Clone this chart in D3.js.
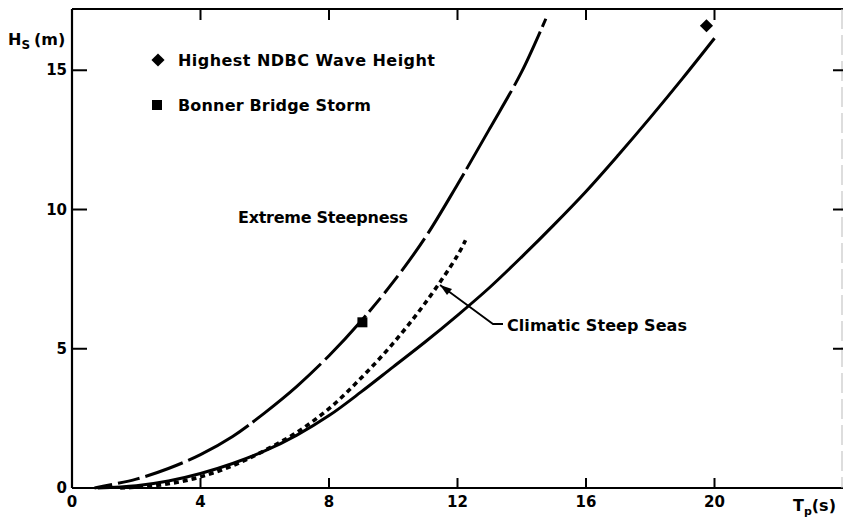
<!DOCTYPE html>
<html lang="en">
<head>
<meta charset="UTF-8"/>
<title>Hs vs Tp steepness</title>
<script src="https://d3js.org/d3.v7.min.js"></script>
<style>
  body { margin: 0; background: #fff; }
  text { font-family: "DejaVu Sans", sans-serif; font-weight: bold; fill: #000; }
</style>
</head>
<body>
<script>
// values
var xTicks = [4, 8, 12, 16, 20];
var yTicks = [5, 10, 15];

var extremeTp = [0.7, 2, 3, 4, 5, 6, 7, 8, 9, 10, 11, 12, 13, 14, 14.75];
var extremeHs = [0, 0.32, 0.7, 1.2, 1.85, 2.7, 3.65, 4.75, 6.0, 7.4, 9.0, 10.9, 12.9, 14.95, 16.85];

var climaticTp = [0.8, 2, 3, 4, 5, 6, 7, 8, 9, 10, 11, 12, 13, 14, 15, 16, 17, 18, 19, 20];
var climaticHs = [0, 0.08, 0.25, 0.52, 0.88, 1.33, 1.9, 2.6, 3.45, 4.35, 5.25, 6.2, 7.2, 8.3, 9.45, 10.65, 11.95, 13.3, 14.7, 16.15];

var steepTp = [1.5, 2, 3, 4, 5, 6, 7, 8, 9, 10, 11, 12, 12.25];
var steepHs = [0, 0.03, 0.15, 0.4, 0.8, 1.35, 2.0, 2.85, 3.95, 5.2, 6.65, 8.35, 8.9];

var ndbcPoint = [19.75, 16.6];
var bonnerPoint = [9.04, 5.95];

var w = 843, h = 520;
var svg = d3.select("body").append("svg")
    .attr("width", w)
    .attr("height", h);

var x = d3.scaleLinear().domain([0, 24]).range([72, 843]);
var y = d3.scaleLinear().domain([0, 17.2]).range([488, 9]);

// frame
svg.append("line").attr("x1", 72).attr("x2", 843).attr("y1", 488).attr("y2", 488)
    .attr("stroke", "#000").attr("stroke-width", 2.2);
svg.append("line").attr("x1", 72).attr("x2", 72).attr("y1", 9).attr("y2", 488)
    .attr("stroke", "#000").attr("stroke-width", 2.2);
svg.append("line").attr("x1", 72).attr("x2", 843).attr("y1", 9).attr("y2", 9)
    .attr("stroke", "#000").attr("stroke-width", 2);
svg.append("line").attr("x1", 842).attr("x2", 842).attr("y1", 9).attr("y2", 488)
    .attr("stroke", "#bbb").attr("stroke-width", 1).attr("stroke-dasharray", "20,6");

// ticks
svg.selectAll(".xtb").data(xTicks).enter().append("line")
    .attr("x1", d => x(d)).attr("x2", d => x(d))
    .attr("y1", 488).attr("y2", 478)
    .attr("stroke", "#000").attr("stroke-width", 2);
svg.selectAll(".xtt").data(xTicks).enter().append("line")
    .attr("x1", d => x(d)).attr("x2", d => x(d))
    .attr("y1", 9).attr("y2", 20)
    .attr("stroke", "#000").attr("stroke-width", 2);
svg.selectAll(".ytl").data(yTicks).enter().append("line")
    .attr("x1", 72).attr("x2", 87)
    .attr("y1", d => y(d)).attr("y2", d => y(d))
    .attr("stroke", "#000").attr("stroke-width", 2);
svg.selectAll(".ytr").data(yTicks).enter().append("line")
    .attr("x1", 833).attr("x2", 843)
    .attr("y1", d => y(d)).attr("y2", d => y(d))
    .attr("stroke", "#000").attr("stroke-width", 2);

// tick labels
svg.selectAll(".xl").data([0].concat(xTicks)).enter().append("text")
    .attr("x", d => x(d)).attr("y", 507)
    .attr("text-anchor", "middle")
    .attr("font-size", 15)
    .text(d => d);
svg.selectAll(".yl").data([0].concat(yTicks)).enter().append("text")
    .attr("x", 67).attr("y", d => y(d) + 5)
    .attr("text-anchor", "end")
    .attr("font-size", 15)
    .text(d => d);

// axis titles
var yt = svg.append("text").attr("x", 8).attr("y", 45).attr("font-size", 16);
yt.append("tspan").text("H");
yt.append("tspan").attr("dy", 4).attr("font-size", 12).text("S");
yt.append("tspan").attr("dy", -4).attr("dx", 4).text("(m)");

var xt = svg.append("text").attr("x", 793).attr("y", 511).attr("font-size", 16);
xt.append("tspan").text("T");
xt.append("tspan").attr("dy", 4).attr("font-size", 11).text("p");
xt.append("tspan").attr("dy", -4).text("(s)");

// curves
var line = d3.line()
    .x(d => x(d[0]))
    .y(d => y(d[1]))
    .curve(d3.curveCatmullRom);

svg.append("path")
    .datum(d3.zip(climaticTp, climaticHs))
    .attr("d", line)
    .attr("fill", "none").attr("stroke", "#000").attr("stroke-width", 3);

svg.append("path")
    .datum(d3.zip(extremeTp, extremeHs))
    .attr("d", line)
    .attr("fill", "none").attr("stroke", "#000").attr("stroke-width", 3)
    .attr("stroke-dasharray", "18,6,22,6,40,6,70,5,90,6,60,5");

svg.append("path")
    .datum(d3.zip(steepTp, steepHs))
    .attr("d", line)
    .attr("fill", "none").attr("stroke", "#000").attr("stroke-width", 3.6)
    .attr("stroke-dasharray", "5,4");

// points
svg.append("path")
    .attr("d", d3.symbol().type(d3.symbolDiamond2).size(110))
    .attr("transform", "translate(" + x(ndbcPoint[0]) + "," + y(ndbcPoint[1]) + ")");
svg.append("rect")
    .attr("x", x(bonnerPoint[0]) - 5).attr("y", y(bonnerPoint[1]) - 5)
    .attr("width", 10).attr("height", 10);

// legend
svg.append("path")
    .attr("d", d3.symbol().type(d3.symbolDiamond2).size(110))
    .attr("transform", "translate(158,60)");
svg.append("text").attr("x", 178).attr("y", 66).attr("font-size", 16)
    .attr("textLength", 257).attr("lengthAdjust", "spacing")
    .text("Highest NDBC Wave Height");
svg.append("rect").attr("x", 152).attr("y", 100).attr("width", 10).attr("height", 10);
svg.append("text").attr("x", 178).attr("y", 111).attr("font-size", 16)
    .attr("textLength", 193).attr("lengthAdjust", "spacing")
    .text("Bonner Bridge Storm");

// curve labels
svg.append("text").attr("x", 238).attr("y", 223).attr("font-size", 16)
    .attr("textLength", 170).attr("lengthAdjust", "spacing")
    .text("Extreme Steepness");

svg.append("path")
    .attr("d", "M440,285 L493,324 L503,324")
    .attr("fill", "none").attr("stroke", "#000").attr("stroke-width", 1.8);
svg.append("path")
    .attr("d", "M440,285 L452,289 L447,295 Z");
svg.append("text").attr("x", 507).attr("y", 331).attr("font-size", 16)
    .attr("textLength", 180).attr("lengthAdjust", "spacing")
    .text("Climatic Steep Seas");
</script>
</body>
</html>
